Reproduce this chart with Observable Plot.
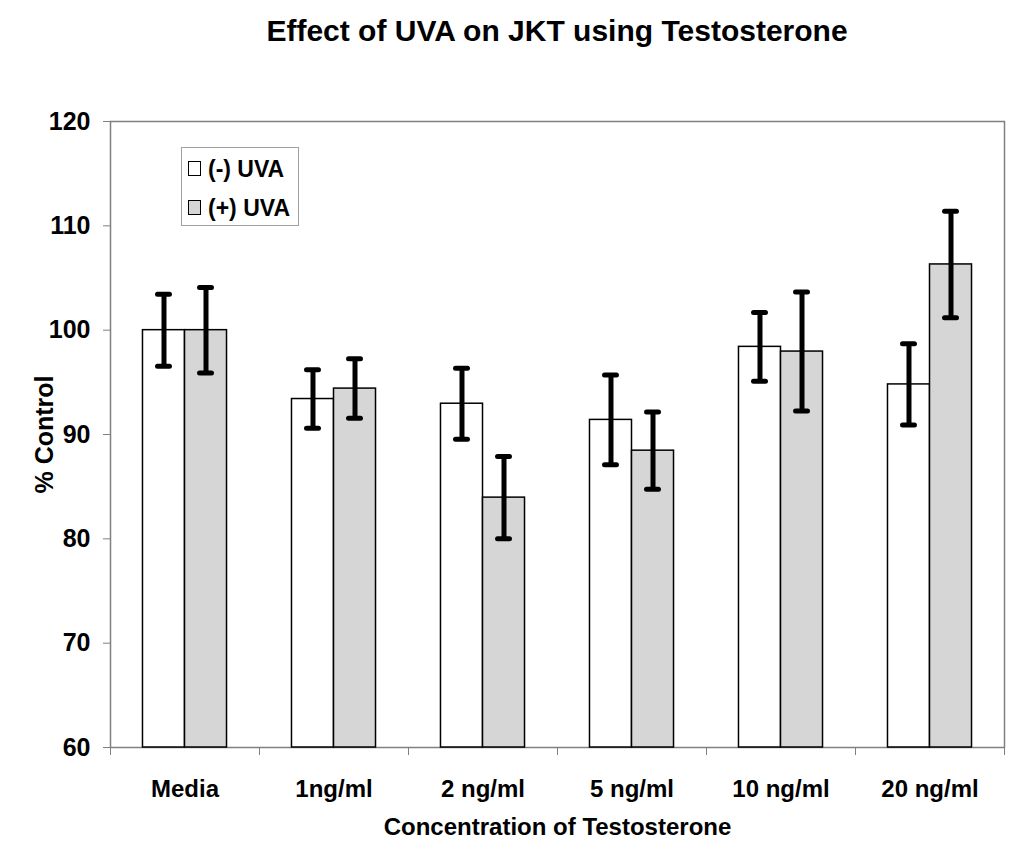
<!DOCTYPE html>
<html>
<head>
<meta charset="utf-8">
<script src="https://cdn.jsdelivr.net/npm/d3@7"></script>
<script src="https://cdn.jsdelivr.net/npm/@observablehq/plot@0.6"></script>
<style>
  html, body { margin: 0; padding: 0; background: white; }
  #wrap { position: relative; width: 1024px; height: 865px; font-family: "Liberation Sans", Arial, sans-serif; font-weight: bold; }
  #title { position: absolute; left: 110px; width: 894px; top: 16px; line-height: 30px; font-size: 30px; text-align: center; }
  #chart { position: absolute; left: 0; top: 80px; }
  #legend { position: absolute; left: 181px; top: 147px; width: 116px; height: 77px; border: 1px solid #a0a0a0; background: white; font-size: 23px; }
  .row { position: absolute; left: 6px; height: 24px; line-height: 24px; white-space: nowrap; }
  .sw { display: inline-block; width: 11px; height: 13px; border: 1px solid #000; vertical-align: middle; margin-right: 7px; position: relative; top: -2px; }
</style>
</head>
<body>
<div id="wrap">
  <div id="title">Effect of UVA on JKT using Testosterone</div>
  <div id="chart"></div>
  <div id="legend"></div>
</div>
<script>
const categories = ["Media", "1ng/ml", "2 ng/ml", "5 ng/ml", "10 ng/ml", "20 ng/ml"];
const series = ["(-) UVA", "(+) UVA"];
const minusUVA = [100, 93.4, 92.95, 91.4, 98.4, 94.8];
const minusErr = [3.45, 2.8, 3.4, 4.3, 3.3, 3.9];
const plusUVA = [100, 94.4, 83.95, 88.45, 97.95, 106.3];
const plusErr = [4.1, 2.85, 3.95, 3.7, 5.7, 5.1];
const yTicks = [60, 70, 80, 90, 100, 110, 120];
const seriesFill = ["#ffffff", "#d6d6d6"];

const rows = [];
categories.forEach((c, i) => {
  rows.push({cat: c, i, s: 0, value: minusUVA[i], err: minusErr[i]});
  rows.push({cat: c, i, s: 1, value: plusUVA[i], err: plusErr[i]});
});

// layout within each category band (fractions of one category step)
const groupOffset = 0.218, barW = 0.282, capHalf = 0.04;
const bx1 = d => d.i + groupOffset + d.s * barW;
const bx2 = d => d.i + groupOffset + (d.s + 1) * barW;
const bxc = d => d.i + groupOffset + (d.s + 0.5) * barW;

const chart = Plot.plot({
  width: 1024,
  height: 785,
  marginTop: 41,
  marginBottom: 118,
  marginLeft: 110,
  marginRight: 20,
  style: {fontFamily: "'Liberation Sans', Arial, sans-serif", fontWeight: "bold", background: "white", color: "black"},
  x: {domain: [0, categories.length], axis: null},
  y: {domain: [yTicks[0], yTicks[yTicks.length - 1]], axis: null},
  marks: [
    Plot.frame({stroke: "#808080", strokeWidth: 1.5}),
    Plot.rect(rows, {x1: bx1, x2: bx2, y1: yTicks[0], y2: "value", fill: d => seriesFill[d.s], stroke: "#000", strokeWidth: 1.5}),
    Plot.ruleX(rows, {x: bxc, y1: d => d.value - d.err, y2: d => d.value + d.err, stroke: "#000", strokeWidth: 5}),
    Plot.ruleY(rows, {x1: d => bxc(d) - capHalf, x2: d => bxc(d) + capHalf, y: d => d.value + d.err, stroke: "#000", strokeWidth: 5, strokeLinecap: "round"}),
    Plot.ruleY(rows, {x1: d => bxc(d) - capHalf, x2: d => bxc(d) + capHalf, y: d => d.value - d.err, stroke: "#000", strokeWidth: 5, strokeLinecap: "round"}),
    Plot.axisY({ticks: yTicks, tickSize: 7, tickPadding: 13, fontSize: 25, stroke: "#808080", fill: "#000", label: null}),
    Plot.axisX({ticks: d3.range(0, categories.length + 1), tickSize: 8, tickFormat: () => "", stroke: "#808080", label: null}),
    Plot.axisX({ticks: categories.map((c, i) => i + 0.5), tickSize: 0, tickPadding: 32, tickFormat: d => categories[Math.floor(d)], fontSize: 24, fill: "#000", label: null}),
    Plot.text(["% Control"], {frameAnchor: "left", dx: -66, rotate: -90, textAnchor: "middle", fontSize: 25, fill: "#000", text: d => d}),
    Plot.text(["Concentration of Testosterone"], {frameAnchor: "bottom", dy: 87, textAnchor: "middle", fontSize: 24, fill: "#000", text: d => d})
  ]
});
document.getElementById("chart").appendChild(chart);

const legend = document.getElementById("legend");
series.forEach((s, k) => {
  const row = document.createElement("div");
  row.className = "row";
  row.style.top = (k === 0 ? 9 : 48) + "px";
  const sw = document.createElement("span");
  sw.className = "sw";
  sw.style.background = seriesFill[k];
  row.appendChild(sw);
  row.appendChild(document.createTextNode(s));
  legend.appendChild(row);
});
</script>
</body>
</html>
